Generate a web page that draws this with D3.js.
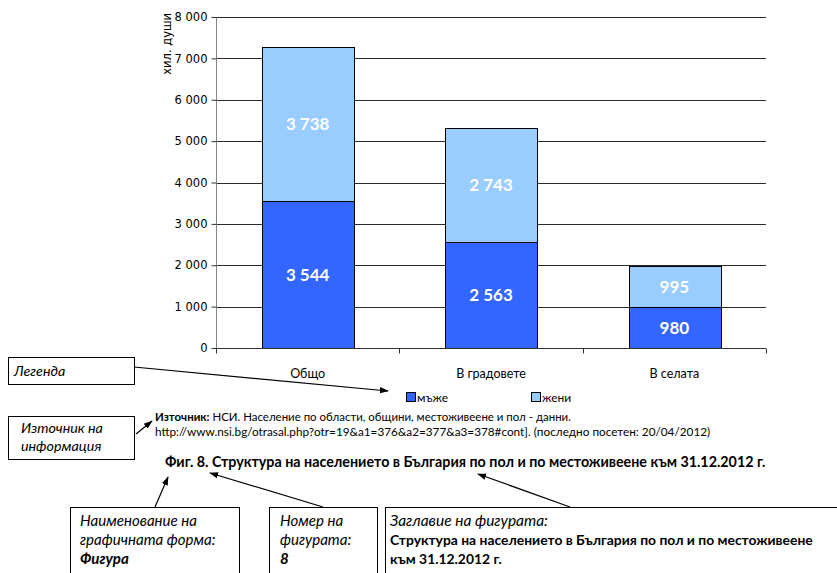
<!DOCTYPE html>
<html><head><meta charset="utf-8">
<script src="https://cdn.jsdelivr.net/npm/d3@7"></script>
<style>
html,body{margin:0;padding:0;background:#fff;}
svg{display:block;}
</style></head>
<body>
<svg id="c" width="837" height="573"></svg>
<script>
// ---- data ----
const categories = ["Общо", "В градовете", "В селата"];
const men   = [3544, 2563, 980];
const women = [3738, 2743, 995];
const seriesNames = ["мъже", "жени"];
const yTicks = [0, 1000, 2000, 3000, 4000, 5000, 6000, 7000, 8000];
const yTitle = "хил. души";
const sourceBold = "Източник:";
const sourceLine1 = " НСИ. Население по области, общини, местоживеене и пол - данни.";
const sourceLine2 = "http://www.nsi.bg/otrasal.php?otr=19&a1=376&a2=377&a3=378#cont]. (последно посетен: 20/04/2012)";
const caption = "Фиг. 8. Структура на населението в България по пол и по местоживеене към 31.12.2012 г.";

const colors = ["#3366FF", "#99CCFF"];
const CAL = "Lato, 'Open Sans', 'Noto Sans', sans-serif";
const VER = "'DejaVu Sans', Verdana, sans-serif";

const svg = d3.select("#c");
const loc = d3.formatLocale({decimal: ",", thousands: "\u00a0", grouping: [3], currency: ["", ""]});
const fmt = loc.format(",d");

const plot = {left: 216, right: 766, top: 17, bottom: 348};
const x = d3.scaleBand().domain(categories).range([plot.left, plot.right]).paddingInner(0.5).paddingOuter(0.25);
const y = d3.scaleLinear().domain([0, 8000]).range([plot.bottom, plot.top]);

// gridlines
svg.append("g").selectAll("line").data(yTicks.filter(d => d > 0)).join("line")
  .attr("x1", plot.left).attr("x2", plot.right)
  .attr("y1", d => Math.round(y(d)) + 0.5).attr("y2", d => Math.round(y(d)) + 0.5)
  .attr("stroke", "#2a2a2a").attr("stroke-width", 1);

// stacked data
const rows = categories.map((c, i) => ({cat: c, men: men[i], women: women[i]}));
const stack = d3.stack().keys(["men", "women"])(rows);

const gBars = svg.append("g");
stack.forEach((layer, li) => {
  gBars.append("g").selectAll("rect").data(layer).join("rect")
    .attr("x", d => Math.round(x(d.data.cat)) + 0.5)
    .attr("width", Math.round(x.bandwidth()))
    .attr("y", d => Math.round(y(d[1])) + 0.5)
    .attr("height", d => Math.round(y(d[0])) - Math.round(y(d[1])))
    .attr("fill", colors[li]).attr("stroke", "#000").attr("stroke-width", 1);
  gBars.append("g").selectAll("text").data(layer).join("text")
    .attr("x", d => x(d.data.cat) + x.bandwidth() / 2)
    .attr("y", d => (y(d[0]) + y(d[1])) / 2)
    .attr("dy", "0.36em")
    .attr("text-anchor", "middle")
    .attr("fill", "#fff").attr("font-weight", "bold")
    .attr("font-family", CAL).attr("font-size", 17)
    .text(d => fmt(d[1] - d[0]));
});

// y axis
const yAxis = d3.axisLeft(y).tickValues(yTicks).tickSize(5).tickFormat(fmt);
const gy = svg.append("g").attr("transform", `translate(${plot.left + 0.5},0)`).call(yAxis);
gy.select(".domain").attr("stroke", "#868686").attr("d", `M0,${plot.top}V${plot.bottom + 5}`);
gy.selectAll(".tick line").attr("stroke", "#333");
gy.selectAll(".tick text").attr("font-family", VER).attr("font-size", 11.5).attr("fill", "#000").attr("x", -9);

// x axis
const xAxis = d3.axisBottom(x).tickSize(0).tickPadding(0);
const gx = svg.append("g").attr("transform", `translate(0,${Math.round(plot.bottom) + 0.5})`).call(xAxis);
gx.select(".domain").attr("stroke", "#333").attr("d", `M${plot.left},0H${plot.right}`);
gx.selectAll(".tick text").attr("font-family", CAL).attr("font-size", 12.5).attr("fill", "#000").attr("y", 29).attr("dy", 0);
// category boundary ticks
const bounds = [plot.left].concat(categories.map(c => x(c) + x.bandwidth() + x.step() * x.paddingInner() / 2));
bounds[bounds.length - 1] = plot.right;
gx.append("g").selectAll("line").data(bounds).join("line")
  .attr("x1", d => Math.round(d) + 0.5).attr("x2", d => Math.round(d) + 0.5)
  .attr("y1", 0).attr("y2", 5).attr("stroke", "#333");

// y title
svg.append("text").attr("transform", "translate(171,13) rotate(-90)")
  .attr("text-anchor", "end").attr("font-family", VER).attr("font-size", 11.5).attr("fill", "#000")
  .text(yTitle);

// legend
const legX = [406, 531];
seriesNames.forEach((n, i) => {
  svg.append("rect").attr("x", legX[i] + 0.5).attr("y", 392.5).attr("width", 9).attr("height", 9)
    .attr("fill", colors[i]).attr("stroke", "#000").attr("stroke-width", 1);
  svg.append("text").attr("x", legX[i] + 11).attr("y", 402).attr("font-family", CAL).attr("font-size", 12)
    .attr("fill", "#000").text(n);
});

// helper to fit text width by adjusting font size
function fit(sel, width) {
  const w = sel.node().getComputedTextLength();
  const fs = parseFloat(sel.attr("font-size"));
  sel.attr("font-size", (fs * width / w).toFixed(2));
  return sel;
}

// source
const s1 = svg.append("text").attr("x", 155).attr("y", 421).attr("font-family", CAL).attr("font-size", 11).attr("fill", "#000");
s1.append("tspan").attr("font-weight", "bold").text(sourceBold);
s1.append("tspan").text(sourceLine1);
fit(s1, 416);
const s2 = svg.append("text").attr("x", 155).attr("y", 436).attr("font-family", CAL).attr("font-size", 11).attr("fill", "#000").text(sourceLine2);
fit(s2, 556);

// caption
const cap = svg.append("text").attr("x", 165).attr("y", 467).attr("font-family", CAL).attr("font-size", 12)
  .attr("font-weight", "bold").attr("fill", "#000").text(caption);
fit(cap, 601);

// ---- annotation boxes ----
const defs = svg.append("defs");
defs.append("marker").attr("id", "ah").attr("viewBox", "0 0 10 10").attr("refX", 9).attr("refY", 5)
  .attr("markerWidth", 9).attr("markerHeight", 9).attr("orient", "auto").attr("markerUnits", "userSpaceOnUse")
  .append("path").attr("d", "M0,1.5L10,5L0,8.5Z").attr("fill", "#000");

function box(x0, y0, w, h) {
  svg.append("rect").attr("x", x0 + 0.5).attr("y", y0 + 0.5).attr("width", w).attr("height", h)
    .attr("fill", "#fff").attr("stroke", "#000").attr("stroke-width", 1);
}
function arrow(x1, y1, x2, y2) {
  svg.append("line").attr("x1", x1).attr("y1", y1).attr("x2", x2).attr("y2", y2)
    .attr("stroke", "#000").attr("stroke-width", 1.2).attr("marker-end", "url(#ah)");
}
function label(x0, y0, t, opts) {
  const o = opts || {};
  return svg.append("text").attr("x", x0).attr("y", y0).attr("font-family", CAL)
    .attr("font-size", o.fs || 14).attr("font-style", o.italic === false ? "normal" : "italic")
    .attr("font-weight", o.bold ? "bold" : "normal").attr("fill", "#000").text(t);
}

box(8, 416, 126, 43);
const src = fit(label(21, 433, "Източник на"), 82);
const sfs = +src.attr("font-size");
label(21, 451, "информация", {fs: sfs});
arrow(136, 434, 152, 421);

box(8, 357, 126, 27);
label(14, 376, "Легенда", {fs: sfs});
arrow(134, 367, 388, 391);

box(70, 507, 169, 80);
const nm = fit(label(80, 526, "Наименование на"), 117);
const bfs = +nm.attr("font-size");
label(80, 545, "графичната форма:", {fs: bfs});
label(80, 564, "Фигура", {bold: true, fs: bfs});
arrow(155, 507, 168, 477);

box(269, 507, 108, 80);
label(280, 526, "Номер на", {fs: bfs});
label(280, 545, "фигурата:", {fs: bfs});
label(280, 564, "8", {bold: true, fs: bfs});
arrow(323, 507, 210, 473);

box(385, 507, 470, 80);
fit(label(390, 526, "Заглавие на фигурата:", {fs: 13}), 158);
const bt = label(390, 545, "Структура на населението в България по пол и по местоживеене", {fs: 13, bold: true, italic: false});
fit(bt, 423);
label(390, 564, "към 31.12.2012 г.", {fs: +bt.attr("font-size"), bold: true, italic: false});
arrow(570, 507, 478, 474);
</script>
</body></html>
